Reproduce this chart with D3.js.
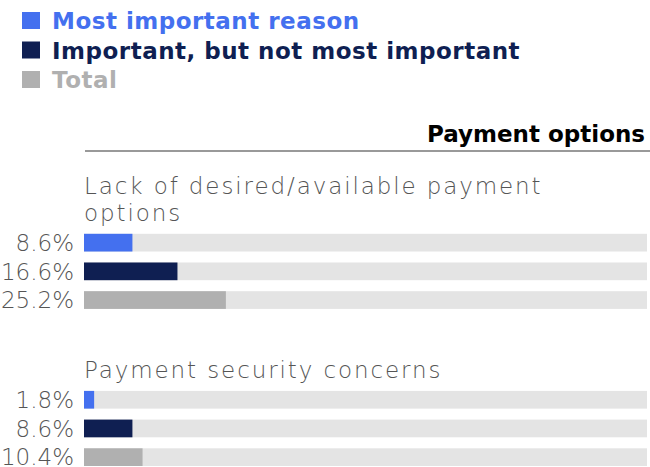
<!DOCTYPE html>
<html>
<head>
<meta charset="utf-8">
<script src="https://cdn.jsdelivr.net/npm/d3@7/dist/d3.min.js"></script>
<style>
  body { margin: 0; background: #fff; }
  svg { display: block; }
</style>
</head>
<body>
<svg width="650" height="467"></svg>
<script>
var series = ["Most important reason", "Important, but not most important", "Total"];
var seriesColors = ["#4470ef", "#0f1f52", "#b0b0b0"];
var groups = ["Lack of desired/available payment options", "Payment security concerns"];
var mostImportant = [8.6, 1.8];
var importantNotMost = [16.6, 8.6];
var total = [25.2, 10.4];
var sectionTitle = "Payment options";

var svg = d3.select("svg");
var width = +svg.attr("width");
var lightFont = "'DejaVu Sans', sans-serif";
var boldFont = "'DejaVu Sans', sans-serif";

var x = d3.scaleLinear().domain([0, 100]).range([84, 647]);
var yBar = d3.scaleBand().domain(series).range([0, 75.1]).paddingInner(0.383);
var color = d3.scaleOrdinal().domain(series).range(seriesColors);

function light(sel, ls) {
  return sel.style("font-family", lightFont).style("font-weight", 200).style("font-size", "23px")
    .style("letter-spacing", (ls || 0) + "px").attr("fill", "#555");
}

// legend
var legend = svg.append("g");
series.forEach(function(s, i) {
  var row = legend.append("g").attr("transform", "translate(0," + (29 + i * 29.5) + ")");
  row.append("rect").attr("x", 22).attr("y", -17).attr("width", 18).attr("height", 17).attr("fill", color(s));
  row.append("text").attr("x", 52).attr("y", 0)
    .style("font-family", boldFont).style("font-weight", 700).style("font-size", "23px")
    .style("letter-spacing", "0.5px")
    .attr("fill", color(s)).text(s);
});

// section header
svg.append("text").attr("x", 645).attr("y", 142).attr("text-anchor", "end")
  .style("font-family", boldFont).style("font-weight", 700).style("font-size", "23px")
  .attr("fill", "#000").text(sectionTitle);
svg.append("line").attr("x1", 85).attr("x2", width).attr("y1", 151).attr("y2", 151)
  .attr("stroke", "#777").attr("stroke-width", 1.5);

function wrap(str, maxW) {
  var words = str.split(" "), lines = [], cur = "";
  var tmp = light(svg.append("text"), 1.9);
  words.forEach(function(w) {
    var test = cur ? cur + " " + w : w;
    tmp.text(test);
    if (tmp.node().getComputedTextLength() > maxW && cur) { lines.push(cur); cur = w; }
    else cur = test;
  });
  lines.push(cur);
  tmp.remove();
  return lines;
}

var y0 = 194;
groups.forEach(function(gname, gi) {
  var lines = wrap(gname, 500);
  var g = svg.append("g");
  lines.forEach(function(l, li) {
    light(g.append("text"), 1.9).attr("x", 84).attr("y", y0 + li * 26.5).text(l);
  });
  var barTop = y0 + (lines.length - 1) * 26.5 + 13.3;
  var vals = [mostImportant[gi], importantNotMost[gi], total[gi]];
  var bars = g.append("g").attr("transform", "translate(0," + barTop + ")");
  bars.selectAll(".track").data(series).enter().append("rect")
    .attr("x", x(0)).attr("y", function(d) { return yBar(d); })
    .attr("width", x(100) - x(0)).attr("height", yBar.bandwidth())
    .attr("fill", "#e4e4e4");
  bars.selectAll(".bar").data(vals).enter().append("rect")
    .attr("x", x(0)).attr("y", function(d, i) { return yBar(series[i]); })
    .attr("width", function(d) { return x(d) - x(0); }).attr("height", yBar.bandwidth())
    .attr("fill", function(d, i) { return color(series[i]); });
  light(bars.selectAll(".val").data(vals).enter().append("text"))
    .attr("x", 74).attr("y", function(d, i) { return yBar(series[i]) + yBar.bandwidth() / 2; })
    .attr("dy", "0.36em").attr("text-anchor", "end")
    .text(function(d) { return d.toFixed(1) + "%"; });
  y0 = barTop + 75.1 + 68.7;
});
</script>
</body>
</html>
